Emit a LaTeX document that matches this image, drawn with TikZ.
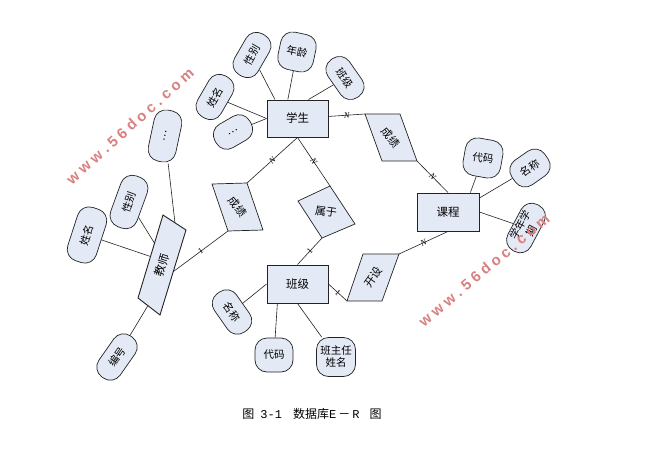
\documentclass[tikz,border=0pt]{standalone}
\usepackage{fontspec}
\setmainfont{Liberation Serif}
\newfontfamily\cjk{Noto Sans CJK SC}
\newfontfamily\latmono{Liberation Mono}
\newfontfamily\wmfont{Liberation Sans}
\usetikzlibrary{calc}
\definecolor{shapefill}{RGB}{228,234,245}
\definecolor{edgecol}{RGB}{35,35,35}
\definecolor{wmred}{RGB}{218,128,128}
\newcommand{\wmstr}{w\kern4pt w\kern4pt w\kern4pt .\kern4pt 5\kern4pt 6\kern4pt d\kern4pt o\kern4pt c\kern4pt .\kern4pt c\kern4pt o\kern4pt m}
\tikzset{
  ent/.style={draw=edgecol, fill=shapefill, line width=0.9pt, minimum width=61pt, minimum height=37pt, inner sep=0pt, font=\cjk\fontsize{11.5}{13}\selectfont},
  attr/.style={draw=edgecol, fill=shapefill, line width=0.7pt, rounded corners=12pt, inner sep=0pt, align=center, font=\cjk\fontsize{10.5}{12}\selectfont},
  relshape/.style={draw=edgecol, fill=shapefill, line width=0.7pt},
  reltext/.style={inner sep=0pt, font=\cjk\fontsize{11}{13}\selectfont},
  conn/.style={draw=edgecol, line width=0.6pt},
  nlab/.style={sloped, inner sep=0pt, font=\fontsize{8.5}{9}\selectfont\itshape},
  olab/.style={sloped, inner sep=0pt, font=\fontsize{8.5}{9}\selectfont},
  wm/.style={text=wmred, inner sep=0pt, font=\wmfont\bfseries\fontsize{15}{16}\selectfont},
}
\begin{document}
\begin{tikzpicture}[x=1pt,y=1pt]
\useasboundingbox (0,0) rectangle (649,-453);
\fill[white] (0,0) rectangle (649,-453);

% entities
\node[ent] (xs) at (297.5,-118.5) {学生};
\node[ent, minimum width=62pt, minimum height=38pt] (kc) at (448,-212) {课程};
\node[ent, minimum height=38pt] (bj) at (297.5,-284) {班级};

% relationship shapes
\coordinate (rA1) at (365,-114); \coordinate (rA2) at (400,-114);
\coordinate (rA3) at (417,-161); \coordinate (rA4) at (382,-161);
\coordinate (rB1) at (212,-184); \coordinate (rB2) at (247,-183);
\coordinate (rB3) at (263,-230); \coordinate (rB4) at (228,-231);
\coordinate (rC1) at (298,-201); \coordinate (rC2) at (330,-186);
\coordinate (rC3) at (355,-224); \coordinate (rC4) at (322,-238);
\coordinate (rD1) at (363,-254); \coordinate (rD2) at (399,-254);
\coordinate (rD3) at (382,-301); \coordinate (rD4) at (347,-301);
\coordinate (rE1) at (163,-215); \coordinate (rE2) at (186,-230);
\coordinate (rE3) at (160,-315); \coordinate (rE4) at (138,-298);

\draw[relshape] (rA1) -- (rA2) -- (rA3) -- (rA4) -- cycle;
\draw[relshape] (rB1) -- (rB2) -- (rB3) -- (rB4) -- cycle;
\draw[relshape] (rC1) -- (rC2) -- (rC3) -- (rC4) -- cycle;
\draw[relshape] (rD1) -- (rD2) -- (rD3) -- (rD4) -- cycle;
\draw[relshape, line width=0.9pt] (rE1) -- (rE2) -- (rE3) -- (rE4) -- cycle;

\node[reltext, rotate=-50] (rAt) at (391,-137.5) {成绩};
\node[reltext, rotate=-52] (rBt) at (237.5,-207) {成绩};
\node[reltext, rotate=-8] (rCt) at (326,-212) {属于};
\node[reltext, rotate=55] (rDt) at (373,-277.5) {开设};
\node[reltext, rotate=73, font=\cjk\fontsize{11.5}{13}\selectfont] (rEt) at (162,-265) {教师};

% points on teacher shape
\coordinate (tE) at ($(rE2)!0.49!(rE3)$);
\coordinate (eT) at ($(rE1)!0.52!(rE2)$);
\coordinate (eL1) at ($(rE1)!0.34!(rE4)$);
\coordinate (eL2) at ($(rE1)!0.5!(rE4)$);
\coordinate (eB) at ($(rE4)!0.45!(rE3)$);

% attributes of student
\node[attr, minimum width=47pt, minimum height=27pt, rotate=60] (sxm) at (215,-97) {姓名};
\node[attr, minimum width=47pt, minimum height=27pt, rotate=60] (sxb) at (252,-55) {性别};
\node[attr, minimum width=36pt, minimum height=38pt, rotate=-12] (snl) at (297,-52) {年龄};
\node[attr, minimum width=46pt, minimum height=26pt, rotate=-55] (sbj) at (345,-78) {班级};
\node[attr, minimum width=40pt, minimum height=27pt, rotate=30] (sdd) at (233,-132) {…};

% attributes of teacher
\node[attr, minimum width=52pt, minimum height=28pt, rotate=78] (tdd) at (165,-136) {…};
\node[attr, minimum width=54pt, minimum height=28pt, rotate=70] (txb) at (129,-202) {性别};
\node[attr, minimum width=56pt, minimum height=30pt, rotate=72] (txm) at (87,-235) {姓名};
\node[attr, minimum width=50pt, minimum height=26pt, rotate=55] (tbh) at (117,-357) {编号};

% attributes of course
\node[attr, minimum width=38pt, minimum height=38pt, rotate=-10] (kdm) at (483,-158) {代码};
\node[attr, minimum width=40pt, minimum height=30pt, rotate=35] (kmc) at (530,-168) {名称};
\node[attr, minimum width=52pt, minimum height=26pt, rotate=62] (kxq) at (526,-228) {学年学\\期};

% attributes of class
\node[attr, minimum width=47pt, minimum height=27pt, rotate=-55] (bmc) at (232,-312) {名称};
\node[attr, minimum width=38pt, minimum height=34pt] (bdm) at (274,-355) {代码};
\node[attr, minimum width=39pt, minimum height=39pt] (bzr) at (336,-357) {班主任\\姓名};

% attribute connectors
\draw[conn] (sxm) -- (xs.west);
\draw[conn] (sdd) -- (xs.west);
\draw[conn] (sxb) -- (xs.140);
\draw[conn] (snl) -- (xs.117);
\draw[conn] (sbj) -- (xs.60);

\draw[conn] (tdd) -- (eT);
\draw[conn] (txb) -- (eL1);
\draw[conn] (txm) -- (eL2);
\draw[conn] (tbh) -- (eB);

\draw[conn] (kdm) -- (kc.41);
\draw[conn] (kmc) -- (kc.24);
\draw[conn] (kxq) -- (kc.east);

\draw[conn] (bmc) -- (bj.west);
\draw[conn] (bdm) -- (bj.224);
\draw[conn] (bzr) -- (bj.south);

% relationship connectors
\draw[conn] (xs) -- node[nlab]{N} (rA1);
\draw[conn] (rA3) -- node[nlab]{N} (kc.north);
\draw[conn] (kc.south) -- node[nlab]{N} (rD2);
\draw[conn] (bj.east) -- node[olab]{1} (rD4);
\draw[conn] (xs.south) -- node[nlab]{N} (rC2);
\draw[conn] (rC4) -- node[olab]{1} (bj.north);
\draw[conn] (xs.south) -- node[nlab]{N} (rB2);
\draw[conn] (rB4) -- node[olab]{1} (tE);

% caption
\node[inner sep=0pt, font=\cjk\fontsize{12}{14}\selectfont] (cap) at (312,-414)
  {图\hspace{6pt}{\latmono 3-1}\hspace{11pt}数据库{\latmono E}\,－\,{\latmono R}\hspace{10pt}图};

% watermarks
\node[wm, rotate=42] (wm1) at (130,-126) {\wmstr};
\node[wm, rotate=40] (wm2) at (484,-270) {\wmstr};
\end{tikzpicture}
\end{document}
